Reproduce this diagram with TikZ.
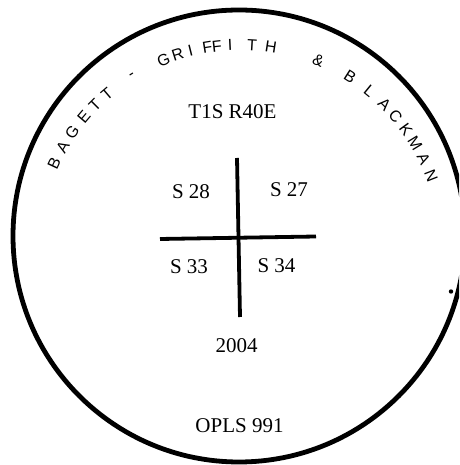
\documentclass[tikz,border=0pt]{standalone}
\usepackage{fontspec}
\setmainfont{Liberation Serif}
\newfontfamily\arcfont{Liberation Sans}
\usetikzlibrary{calc}
\begin{document}
\begin{tikzpicture}[x=1pt,y=1pt,
  lbl/.style={font=\fontsize{21}{23}\selectfont, inner sep=0pt},
  arcl/.style={font=\arcfont\fontsize{16}{18}\selectfont, inner sep=-1pt},
  thick line/.style={line width=3.8pt}]
\useasboundingbox (0,0) rectangle (459,465);
\clip (0,0) rectangle (459,465);
% outer ring
\draw[line width=4.8pt] (239,229) circle (226);
\coordinate (c) at (240,215);
% curved lettering
\foreach \ch/\a in {B/155.1,A/149.8,G/145,E/139.6,T/135,T/130.4,-/121.7,G/111.9,R/107.7,I/104,F/99.2,F/96.5,I/92.8,T/86.6,H/81.3,\&/67.5,B/57.5,L/50.8,A/45.2,C/40.6,K/35.9,M/31.4,A/26.4,N/21.3}{
  \pgfmathsetmacro{\r}{\a-90}
  \node[arcl, rotate=\r] at ($(c)+(\a:205)$) {\ch};
}
% cross
\coordinate (vt) at (237,307);
\coordinate (vb) at (240,148);
\coordinate (hl) at (160,226);
\coordinate (hr) at (316,228.5);
\draw[thick line] (vt) -- (vb);
\draw[thick line] (hl) -- (hr);
% labels
\node[lbl] (twp) at (232.5,353) {T1S R40E};
\node[lbl] (s28) at (191,273.5) {S 28};
\node[lbl] (s27) at (289,275) {S 27};
\node[lbl] (s33) at (189,198.5) {S 33};
\node[lbl] (s34) at (276.5,199.5) {S 34};
\node[lbl] (yr) at (236.5,119) {2004};
\node[lbl] (opls) at (239.5,39.5) {OPLS 991};
% small dot
\fill (451,173.5) circle (2.2);
\end{tikzpicture}
\end{document}
